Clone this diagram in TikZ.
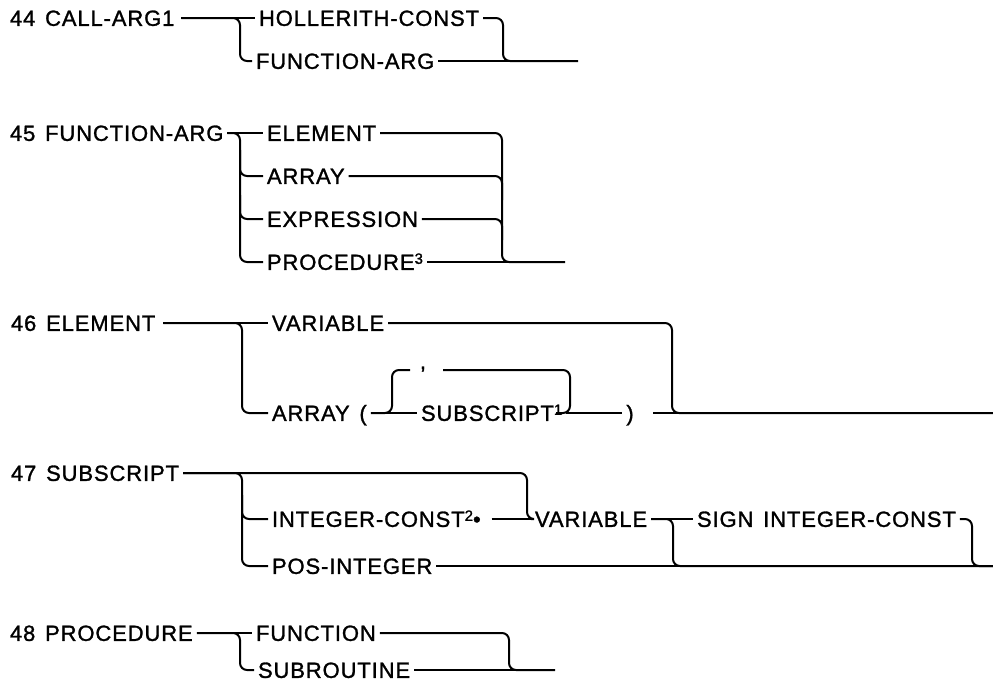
\documentclass[tikz,border=0pt]{standalone}
\usepackage{fontspec}
\setmainfont{Liberation Sans}[LetterSpace=4,WordSpace=1.4,FakeBold=1.3]
\usetikzlibrary{calc}
\newcommand\upnum[1]{\raisebox{6pt}{\fontsize{15}{15}\selectfont #1}}
\begin{document}
\begin{tikzpicture}[x=1pt,y=-1pt,line width=2pt,
  lbl/.style={font=\fontsize{22}{22}\selectfont,inner xsep=3pt,inner ysep=0pt,
    text height=15.75pt,text depth=0pt,anchor=west},
  rc/.style={rounded corners=7pt}]
\useasboundingbox (0,0) rectangle (993,683);
% ---------- 44
\node[lbl] (t44) at (6,18) {44 CALL-ARG1};
\node[lbl] (h44) at (255,18) {HOLLERITH-CONST};
\node[lbl] (f44) at (252,61) {FUNCTION-ARG};
\coordinate (s44) at (240,18);
\coordinate (m44) at (503,61);
\coordinate (e44) at (578,61);
\draw ($(t44.east)+(3,0)$) -- (h44.west);
\draw[rc] ($(t44.east)+(3,0)$) -- (s44) |- (f44.west);
\draw[rc] (h44.east) -| (m44) -- (e44);
\draw (f44.east) -- (e44);
% ---------- 45
\node[lbl] (t45) at (6,133) {45 FUNCTION-ARG};
\node[lbl] (a45) at (263,133) {ELEMENT};
\node[lbl] (b45) at (263,176) {ARRAY};
\node[lbl] (c45) at (263,219) {EXPRESSION};
\node[lbl] (d45) at (263,262) {PROCEDURE\upnum{3}};
\coordinate (s45) at (240,133);
\coordinate (s45b) at (240,150);
\coordinate (s45c) at (240,195);
\coordinate (m45b) at (502,200);
\coordinate (m45c) at (502,240);
\coordinate (m45) at (502,262);
\coordinate (e45) at (565,262);
\draw (t45.east) -- (a45.west);
\draw[rc] (t45.east) -- (s45) |- (d45.west);
\draw[rc] (s45b) |- (b45.west);
\draw[rc] (s45c) |- (c45.west);
\draw[rc] (a45.east) -| (m45) -- (e45);
\draw[rc] (b45.east) -| (m45b);
\draw[rc] (c45.east) -| (m45c);
\draw (d45.east) -- (e45);
% ---------- 46
\node[lbl] (t46) at (7,323) {46 ELEMENT};
\node[lbl] (v46) at (268,323) {VARIABLE};
\node[lbl] (r46) at (268,413) {ARRAY (};
\node[lbl] (u46) at (417,413) {SUBSCRIPT\upnum{1}};
\node[lbl,anchor=center] (p46) at (630,413) {)};
\node[lbl,anchor=center] (k46) at (423,361) {,};
\coordinate (s46) at (242,323);
\coordinate (lt46) at (392,370);
\coordinate (lk46) at (410,370);
\coordinate (rk46) at (443,370);
\coordinate (rb46) at (570,413);
\coordinate (rc46) at (556,413);
\coordinate (m46) at (672,413);
\coordinate (q46) at (653,413);
\coordinate (e46) at (993,413);
\draw ($(t46.east)+(4,0)$) -- (v46.west);
\draw[rc] ($(t46.east)+(4,0)$) -- (s46) |- (r46.west);
\draw[rc] (v46.east) -| (m46) -- (e46);
\draw (r46.east) -- (u46.west);
\draw[rc] (r46.east) -| (lt46) -- (lk46);
\draw[rc] (rk46) -| (rb46) -- (rc46);
\draw (u46.east) -- (p46.west);
\draw (q46) -- (e46);
% ---------- 47
\node[lbl] (t47) at (7,473) {47 SUBSCRIPT};
\node[lbl] (i47) at (268,519) {INTEGER-CONST\upnum{2}•};
\node[lbl] (o47) at (268,566) {POS-INTEGER};
\node[lbl] (v47) at (531,519) {VARIABLE};
\node[lbl] (g47) at (693,519) {SIGN INTEGER-CONST};
\coordinate (s47) at (242,473);
\coordinate (s47b) at (242,495);
\coordinate (j47) at (527,519);
\coordinate (b47) at (673,519);
\coordinate (m47) at (972,566);
\coordinate (e47) at (993,566);
\draw[rc] (t47.east) -| (j47) -- (v47.west);
\draw[rc] (t47.east) -- (s47) |- (o47.west);
\draw[rc] (s47b) |- (i47.west);
\draw ($(i47.east)+(7,0)$) -- (v47.west);
\draw (v47.east) -- (g47.west);
\draw[rc] (v47.east) -- (b47) |- (e47);
\draw[rc] (g47.east) -| (m47) -- (e47);
\draw (o47.east) -- (e47);
% ---------- 48
\node[lbl] (t48) at (6,633) {48 PROCEDURE};
\node[lbl] (a48) at (252,633) {FUNCTION};
\node[lbl] (b48) at (254,670) {SUBROUTINE};
\coordinate (s48) at (240,633);
\coordinate (m48) at (509,670);
\coordinate (e48) at (555,670);
\draw (t48.east) -- (a48.west);
\draw[rc] (t48.east) -- (s48) |- (b48.west);
\draw[rc] (a48.east) -| (m48) -- (e48);
\draw (b48.east) -- (e48);
\end{tikzpicture}
\end{document}
